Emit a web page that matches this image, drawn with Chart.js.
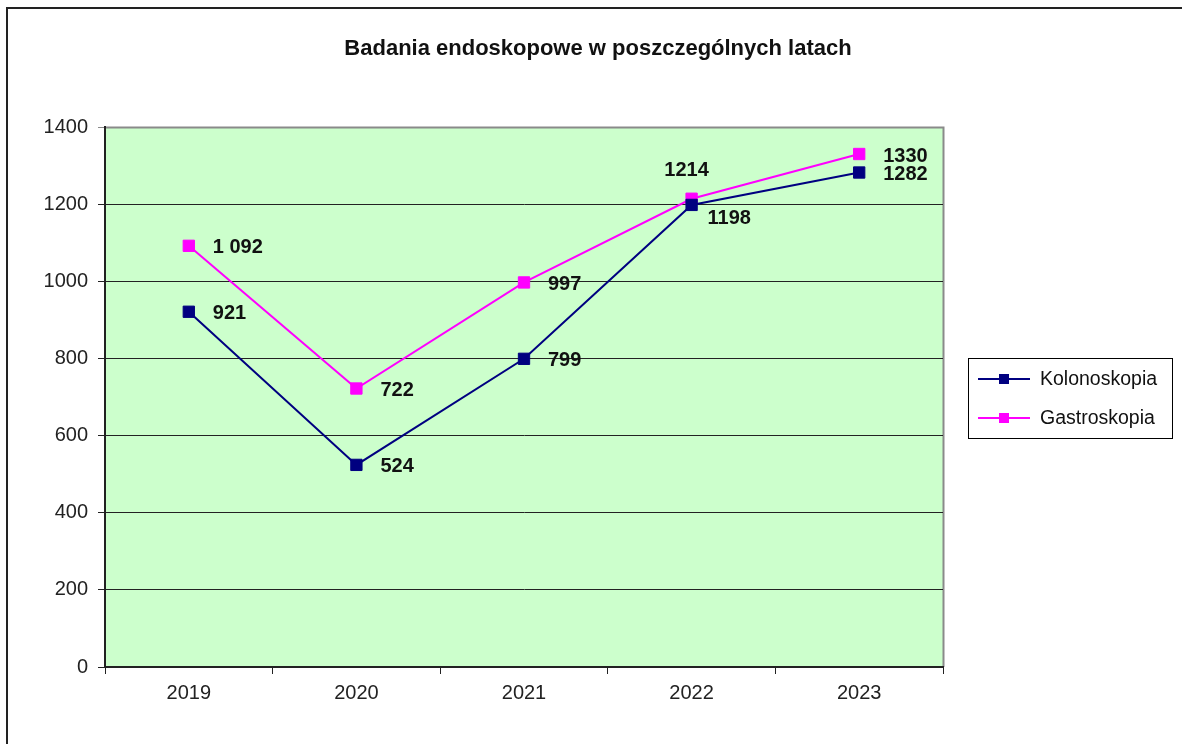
<!DOCTYPE html>
<html>
<head>
<meta charset="utf-8">
<title>Badania endoskopowe</title>
<script src="https://cdn.jsdelivr.net/npm/chart.js"></script>
<style>
  html, body { margin: 0; padding: 0; background: #fff; }
  #wrap { width: 1182px; height: 744px; position: relative; }
</style>
</head>
<body>
<div id="wrap"><canvas id="endoChart"></canvas></div>
<script>
// Data
const years = ['2019', '2020', '2021', '2022', '2023'];
const kolonoskopia = [921, 524, 799, 1198, 1282];
const gastroskopia = [1092, 722, 997, 1214, 1330];
const kolonoskopiaLabels = ['921', '524', '799', '1198', '1282'];
const gastroskopiaLabels = ['1 092', '722', '997', '1214', '1330'];
const yTicks = [0, 200, 400, 600, 800, 1000, 1200, 1400];
const chartTitle = 'Badania endoskopowe w poszczególnych latach';

const FONT = "'Liberation Sans', Arial, sans-serif";

// green plot background, sheet frame and the title
const backdrop = {
    id: 'backdrop',
    beforeDraw(chart) {
        const { ctx, chartArea: a } = chart;
        ctx.save();
        ctx.fillStyle = '#ccffcc';
        ctx.fillRect(a.left, a.top, a.right - a.left, a.bottom - a.top);
        ctx.strokeStyle = '#8a8a8a';
        ctx.lineWidth = 2;
        ctx.beginPath();
        ctx.moveTo(a.left, a.top + 0.5);
        ctx.lineTo(a.right + 0.5, a.top + 0.5);
        ctx.lineTo(a.right + 0.5, a.bottom);
        ctx.stroke();
        // sheet border (top + left only visible)
        ctx.strokeStyle = '#222';
        ctx.lineWidth = 2;
        ctx.beginPath();
        ctx.moveTo(chart.width, 8);
        ctx.lineTo(7, 8);
        ctx.lineTo(7, chart.height);
        ctx.stroke();
        // title centred on the whole sheet
        ctx.font = 'bold 22px ' + FONT;
        ctx.fillStyle = '#111';
        ctx.textAlign = 'center';
        ctx.textBaseline = 'middle';
        ctx.fillText(chartTitle, 598, 49);
        ctx.restore();
    }
};

// value labels next to the markers
const valueLabels = {
    id: 'valueLabels',
    afterDatasetsDraw(chart) {
        const { ctx } = chart;
        const texts = [kolonoskopiaLabels, gastroskopiaLabels];
        ctx.save();
        ctx.font = 'bold 20px ' + FONT;
        ctx.fillStyle = '#111';
        ctx.textBaseline = 'middle';
        chart.data.datasets.forEach((ds, di) => {
            const meta = chart.getDatasetMeta(di);
            meta.data.forEach((pt, i) => {
                let dx = 24, dy = 2, align = 'left';
                if (di === 1 && i === 3) { dx = -5; dy = -28; align = 'center'; }
                if (di === 0 && i === 3) { dx = 16; dy = 14; }
                ctx.textAlign = align;
                ctx.fillText(texts[di][i], pt.x + dx, pt.y + dy);
            });
        });
        ctx.restore();
    }
};

// boxed legend on the right, like the spreadsheet one
const boxLegend = {
    id: 'boxLegend',
    afterDraw(chart) {
        const { ctx } = chart;
        const x = 968, y = 358, w = 204, h = 80;
        ctx.save();
        ctx.fillStyle = '#fff';
        ctx.fillRect(x, y, w, h);
        ctx.strokeStyle = '#000';
        ctx.lineWidth = 1;
        ctx.strokeRect(x + 0.5, y + 0.5, w, h);
        ctx.font = '19.5px ' + FONT;
        ctx.textBaseline = 'middle';
        ctx.textAlign = 'left';
        chart.data.datasets.forEach((ds, i) => {
            const cy = y + 21 + i * 39;
            ctx.strokeStyle = ds.borderColor;
            ctx.lineWidth = 2;
            ctx.beginPath();
            ctx.moveTo(x + 10, cy);
            ctx.lineTo(x + 62, cy);
            ctx.stroke();
            ctx.fillStyle = ds.backgroundColor;
            ctx.fillRect(x + 31, cy - 5, 10, 10);
            ctx.fillStyle = '#111';
            ctx.fillText(ds.label, x + 72, cy + 1);
        });
        ctx.restore();
    }
};

new Chart(document.getElementById('endoChart'), {
    type: 'line',
    data: {
        labels: years,
        datasets: [
            {
                label: 'Kolonoskopia',
                data: kolonoskopia,
                borderColor: '#000080',
                backgroundColor: '#000080',
                borderWidth: 2,
                pointStyle: 'rect',
                pointRadius: 8,
                pointBorderWidth: 1,
                tension: 0
            },
            {
                label: 'Gastroskopia',
                data: gastroskopia,
                borderColor: '#ff00ff',
                backgroundColor: '#ff00ff',
                borderWidth: 2,
                pointStyle: 'rect',
                pointRadius: 8,
                pointBorderWidth: 1,
                tension: 0
            }
        ]
    },
    options: {
        responsive: true,
        maintainAspectRatio: false,
        animation: false,
        layout: { padding: { top: 127, right: 239, bottom: 37, left: 0 } },
        plugins: {
            legend: { display: false },
            tooltip: { enabled: false },
            title: { display: false }
        },
        scales: {
            x: {
                offset: true,
                grid: {
                    offset: true,
                    drawOnChartArea: false,
                    drawTicks: true,
                    tickLength: 7,
                    color: '#222'
                },
                border: { color: '#222', width: 2 },
                ticks: {
                    color: '#222',
                    padding: 7,
                    font: { family: FONT, size: 20 }
                },
                afterFit(scale) { scale.height = 40; }
            },
            y: {
                min: 0,
                max: 1400,
                afterBuildTicks(scale) {
                    scale.ticks = yTicks.map(v => ({ value: v }));
                },
                grid: {
                    color: ctx => ctx.tick && ctx.tick.value === 1400 ? '#8a8a8a' : '#222',
                    lineWidth: 1,
                    tickLength: 7
                },
                border: { color: '#222', width: 2 },
                ticks: {
                    color: '#222',
                    padding: 10,
                    font: { family: FONT, size: 20 },
                    callback: value => String(value)
                },
                afterFit(scale) { scale.width = 105; }
            }
        }
    },
    plugins: [backdrop, valueLabels, boxLegend]
});
</script>
</body>
</html>
